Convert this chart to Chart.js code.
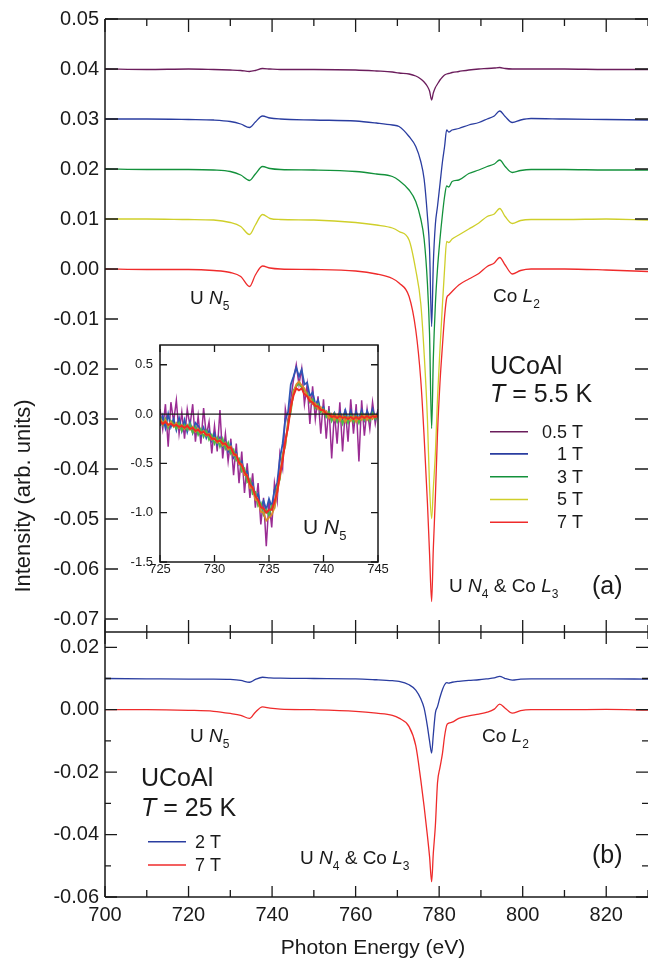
<!DOCTYPE html>
<html>
<head>
<meta charset="utf-8">
<script src="https://cdn.jsdelivr.net/npm/chart.js@4.4.0/dist/chart.umd.min.js"></script>
<style>
html,body{margin:0;padding:0;background:#fff;}
#wrap{position:relative;width:648px;height:958px;overflow:hidden;background:#fff;}
canvas{position:absolute;}
#cTop{left:0;top:0;}
#cBot{left:0;top:632px;}
#cIn{left:100px;top:330px;}
</style>
</head>
<body>
<div id="wrap">
  <canvas id="cTop" width="648" height="633"></canvas>
  <canvas id="cBot" width="648" height="326"></canvas>
  <canvas id="cIn" width="290" height="250"></canvas>
</div>
<script>
const FONT = '"Liberation Sans", Arial, Helvetica, sans-serif';
const INK = "#1a1a1a";

// photon energy grid (eV) shared by the main spectra
const energy = [
  700, 710, 720, 726, 730,
  732.5, 734.6, 736, 737.7, 739.5,
  742, 750, 760, 765, 768.8,
  770.4, 772.8, 774.4, 775.6, 776.4,
  777.2, 777.7, 778.2, 778.6, 779.1,
  779.6, 780.2, 780.8, 781.3, 781.8,
  782.3, 783.1, 784.7, 787.1, 789.5,
  791.5, 793.2, 794.5, 795.8, 797.5,
  799.5, 802, 810, 820, 830
];

// (a) T = 5.5 K, curves offset by 0.01
const int05T = [
  0.0400, 0.0399, 0.0400, 0.0399, 0.0398,
  0.0397, 0.0395, 0.0397, 0.0401, 0.0400,
  0.0399, 0.0399, 0.0398, 0.0396, 0.0394,
  0.0392, 0.0390, 0.0386, 0.0380, 0.0374,
  0.0365, 0.0356, 0.0338, 0.0352, 0.0363,
  0.0370, 0.0378, 0.0384, 0.0388, 0.0390,
  0.0391, 0.0393, 0.0395, 0.0398, 0.0400,
  0.0401, 0.0402, 0.0403, 0.0401, 0.0400,
  0.0400, 0.0400, 0.0400, 0.0399, 0.0399
];
const int1T = [
  0.0300, 0.0300, 0.0299, 0.0298, 0.0295,
  0.0290, 0.0283, 0.0294, 0.0306, 0.0302,
  0.0300, 0.0298, 0.0296, 0.0292, 0.0288,
  0.0285, 0.0265, 0.0245, 0.0215, 0.0180,
  0.0105, 0.0040, -0.0115, 0.0010, 0.0090,
  0.0125, 0.0170, 0.0215, 0.0245, 0.0278,
  0.0274, 0.0278, 0.0281, 0.0288, 0.0293,
  0.0300, 0.0306, 0.0316, 0.0305, 0.0293,
  0.0298, 0.0301, 0.0300, 0.0299, 0.0298
];
const int3T = [
  0.0200, 0.0199, 0.0199, 0.0198, 0.0195,
  0.0188, 0.0177, 0.0190, 0.0205, 0.0201,
  0.0199, 0.0198, 0.0195, 0.0190, 0.0185,
  0.0177, 0.0158, 0.0135, 0.0100, 0.0060,
  -0.0030, -0.0130, -0.0319, -0.0180, -0.0070,
  0.0000, 0.0060, 0.0110, 0.0145, 0.0166,
  0.0164, 0.0175, 0.0178, 0.0191, 0.0198,
  0.0205, 0.0210, 0.0218, 0.0205, 0.0193,
  0.0197, 0.0199, 0.0199, 0.0198, 0.0198
];
const int5T = [
  0.0100, 0.0100, 0.0099, 0.0098, 0.0093,
  0.0085, 0.0069, 0.0088, 0.0109, 0.0101,
  0.0099, 0.0098, 0.0093, 0.0088, 0.0082,
  0.0075, 0.0058, -0.0002, -0.0069, -0.0168,
  -0.0302, -0.0435, -0.0499, -0.0440, -0.0368,
  -0.0260, -0.0160, -0.0069, 0.0000, 0.0055,
  0.0053, 0.0060, 0.0068, 0.0080, 0.0092,
  0.0105, 0.0110, 0.0121, 0.0105, 0.0091,
  0.0097, 0.0099, 0.0099, 0.0100, 0.0098
];
const int7T = [
  0.0000, -0.0001, -0.0001, -0.0003, -0.0007,
  -0.0015, -0.0035, -0.0012, 0.0006, 0.0002,
  0.0000, -0.0001, -0.0004, -0.0010, -0.0019,
  -0.0028, -0.0055, -0.0122, -0.0222, -0.0335,
  -0.0469, -0.0569, -0.0665, -0.0560, -0.0455,
  -0.0330, -0.0227, -0.0152, -0.0095, -0.0058,
  -0.0052, -0.0045, -0.0032, -0.0020, -0.0009,
  0.0005, 0.0012, 0.0023, 0.0008, -0.0010,
  -0.0003, 0.0000, 0.0000, -0.0002, -0.0005
];

// (b) T = 25 K
const int2T25K = [
  0.0100, 0.0099, 0.0098, 0.0098, 0.0097,
  0.0094, 0.0088, 0.0097, 0.0104, 0.0102,
  0.0101, 0.0100, 0.0099, 0.0096, 0.0093,
  0.0091, 0.0080, 0.0063, 0.0035, 0.0005,
  -0.0054, -0.0100, -0.0139, -0.0080, -0.0010,
  0.0010, 0.0040, 0.0065, 0.0080, 0.0087,
  0.0085, 0.0088, 0.0091, 0.0094, 0.0096,
  0.0099, 0.0102, 0.0107, 0.0100, 0.0095,
  0.0098, 0.0099, 0.0099, 0.0099, 0.0098
];
const int7T25K = [
  0.0000, 0.0000, -0.0002, -0.0005, -0.0012,
  -0.0018, -0.0028, -0.0008, 0.0009, 0.0005,
  0.0002, 0.0000, -0.0005, -0.0011, -0.0018,
  -0.0027, -0.0054, -0.0115, -0.0225, -0.0310,
  -0.0405, -0.0470, -0.0551, -0.0460, -0.0370,
  -0.0235, -0.0185, -0.0139, -0.0085, -0.0050,
  -0.0043, -0.0040, -0.0028, -0.0020, -0.0014,
  -0.0008, 0.0002, 0.0018, 0.0005, -0.0011,
  -0.0003, 0.0000, 0.0000, 0.0001, -0.0001
];

// inset: normalised U N5 signal
const insetE = [
  725, 725.25, 725.5, 725.75, 726, 726.25, 726.5, 726.75, 727, 727.25,
  727.5, 727.75, 728, 728.25, 728.5, 728.75, 729, 729.25, 729.5, 729.75,
  730, 730.25, 730.5, 730.75, 731, 731.25, 731.5, 731.75, 732, 732.25,
  732.5, 732.75, 733, 733.25, 733.5, 733.75, 734, 734.25, 734.5, 734.75,
  735, 735.25, 735.5, 735.75, 736, 736.25, 736.5, 736.75, 737, 737.25,
  737.5, 737.75, 738, 738.25, 738.5, 738.75, 739, 739.25, 739.5, 739.75,
  740, 740.25, 740.5, 740.75, 741, 741.25, 741.5, 741.75, 742, 742.25,
  742.5, 742.75, 743, 743.25, 743.5, 743.75, 744, 744.25, 744.5, 744.75,
  745
];
const inset05T = [
  0.05, -0.15, 0.10, -0.33, 0.12, -0.08, 0.14, -0.20, 0.02, -0.25,
  0.05, -0.12, 0.10, -0.28, -0.02, -0.30, 0.06, -0.22, -0.08, -0.40,
  -0.12, -0.38, 0.04, -0.45, -0.20, -0.48, -0.25, -0.62, -0.30, -0.70,
  -0.38, -0.80, -0.50, -0.85, -0.60, -0.95, -0.70, -1.12, -0.85, -1.34,
  -0.88, -1.15, -0.70, -0.88, -0.40, -0.55, 0.05, -0.12, 0.15, 0.35,
  0.50, 0.30, 0.46, 0.10, 0.30, -0.10, 0.28, -0.05, 0.18, -0.20,
  0.15, -0.25, 0.08, -0.45, 0.02, -0.30, 0.12, -0.38, 0.05, -0.28,
  0.15, -0.20, 0.10, -0.48, 0.14, -0.22, 0.05, -0.15, 0.12, -0.10,
  0.05
];
const inset1T = [
  -0.12, -0.02, -0.14, 0.00, -0.13, -0.05, -0.16, -0.04, -0.17, -0.06,
  -0.18, -0.08, -0.19, -0.09, -0.12, -0.22, -0.14, -0.24, -0.17, -0.27,
  -0.20, -0.31, -0.24, -0.33, -0.28, -0.38, -0.31, -0.44, -0.39, -0.51,
  -0.48, -0.60, -0.58, -0.73, -0.70, -0.85, -0.81, -0.95, -0.88, -0.97,
  -0.86, -0.94, -0.77, -0.70, -0.45, -0.30, -0.05, 0.02, 0.30, 0.38,
  0.47, 0.38, 0.45, 0.30, 0.32, 0.18, 0.22, 0.10, 0.14, 0.03,
  0.07, -0.02, 0.03, -0.06, 0.01, -0.07, 0.02, -0.05, 0.04, -0.06,
  0.03, -0.07, 0.02, -0.05, 0.04, -0.06, 0.03, -0.04, 0.05, -0.05,
  0.02
];
const inset3T = [
  -0.02, -0.11, -0.05, -0.14, -0.07, -0.10, -0.15, -0.09, -0.17, -0.11,
  -0.16, -0.10, -0.19, -0.13, -0.21, -0.15, -0.23, -0.17, -0.26, -0.21,
  -0.30, -0.24, -0.33, -0.25, -0.35, -0.29, -0.40, -0.36, -0.47, -0.45,
  -0.58, -0.55, -0.69, -0.66, -0.81, -0.79, -0.93, -0.90, -1.02, -0.97,
  -1.03, -0.93, -0.95, -0.74, -0.66, -0.41, -0.32, -0.07, 0.02, 0.24,
  0.28, 0.31, 0.27, 0.24, 0.21, 0.12, 0.15, 0.06, 0.10, 0.02,
  0.05, -0.03, 0.02, -0.07, 0.00, -0.08, -0.01, -0.10, -0.02, -0.09,
  -0.01, -0.08, -0.02, -0.09, 0.00, -0.06, -0.01, -0.07, 0.01, -0.05,
  -0.01
];
const inset5T = [
  -0.04, -0.10, -0.06, -0.12, -0.08, -0.13, -0.09, -0.14, -0.11, -0.15,
  -0.11, -0.16, -0.13, -0.18, -0.15, -0.20, -0.17, -0.22, -0.20, -0.26,
  -0.24, -0.29, -0.26, -0.32, -0.29, -0.36, -0.33, -0.42, -0.41, -0.51,
  -0.51, -0.62, -0.62, -0.75, -0.74, -0.87, -0.88, -0.99, -1.00, -1.08,
  -1.05, -1.02, -0.95, -0.80, -0.64, -0.44, -0.30, -0.10, 0.05, 0.22,
  0.30, 0.33, 0.29, 0.26, 0.18, 0.17, 0.10, 0.11, 0.05, 0.07,
  0.01, 0.03, -0.04, 0.00, -0.06, -0.01, -0.07, -0.02, -0.08, -0.03,
  -0.07, -0.02, -0.08, -0.03, -0.06, -0.01, -0.06, -0.02, -0.05, -0.01,
  -0.04
];
const inset7T = [
  -0.07, -0.10, -0.08, -0.11, -0.10, -0.12, -0.11, -0.13, -0.12, -0.14,
  -0.12, -0.15, -0.14, -0.17, -0.16, -0.19, -0.18, -0.21, -0.21, -0.25,
  -0.25, -0.28, -0.27, -0.30, -0.30, -0.34, -0.34, -0.40, -0.42, -0.49,
  -0.52, -0.59, -0.63, -0.71, -0.75, -0.83, -0.87, -0.94, -0.96, -1.00,
  -0.97, -0.97, -0.89, -0.79, -0.61, -0.47, -0.27, -0.13, 0.07, 0.19,
  0.26, 0.24, 0.26, 0.20, 0.18, 0.13, 0.12, 0.08, 0.08, 0.04,
  0.04, 0.00, 0.00, -0.03, -0.02, -0.04, -0.02, -0.04, -0.03, -0.05,
  -0.03, -0.05, -0.03, -0.05, -0.02, -0.04, -0.02, -0.04, -0.02, -0.03,
  -0.01
];

// ticks
const xMajor = [700, 720, 740, 760, 780, 800, 820];
const xMinor = [710, 730, 750, 770, 790, 810, 830];
const yTicksA = [0.05, 0.04, 0.03, 0.02, 0.01, 0.00, -0.01, -0.02, -0.03, -0.04, -0.05, -0.06, -0.07];
const yMajorB = [0.02, 0.00, -0.02, -0.04, -0.06];
const yMinorB = [0.01, -0.01, -0.03, -0.05];
const insetXTicks = [725, 730, 735, 740, 745];
const insetYTicks = [0.5, 0.0, -0.5, -1.0, -1.5];

const fieldsA = ["0.5 T", "1 T", "3 T", "5 T", "7 T"];
const colorsA = ["#6b1d5c", "#2a3da0", "#13913b", "#cfcf2a", "#ef2b2b"];
const fieldsB = ["2 T", "7 T"];
const colorsB = ["#2a3da0", "#ef2b2b"];
const insetColors = ["#9a2c93", "#2f55b5", "#4cb848", "#d98b2b", "#ef2b23"];

Chart.defaults.font.family = FONT;
Chart.defaults.color = INK;

function pts(xs, ys){ return xs.map((x, i) => ({ x: x, y: ys[i] })); }

function lineSet(label, xs, ys, color, width, order){
  return {
    label: label, data: pts(xs, ys), borderColor: color, borderWidth: width,
    pointRadius: 0, fill: false, cubicInterpolationMode: "monotone", order: order
  };
}

function seg(ctx, x1, y1, x2, y2){
  ctx.moveTo(x1, y1); ctx.lineTo(x2, y2);
}

// text with italic parts and subscripts
function drawRuns(ctx, x, y, runs, size){
  let cx = x;
  ctx.textBaseline = "alphabetic";
  ctx.textAlign = "left";
  for(const r of runs){
    const s = r.sub ? Math.round(size * 0.64) : size;
    ctx.font = (r.it ? "italic " : "") + s + "px " + FONT;
    ctx.fillText(r.t, cx, y + (r.sub ? size * 0.3 : 0));
    cx += ctx.measureText(r.t).width;
  }
}

const UN5 = [{t:"U "}, {t:"N", it:true}, {t:"5", sub:true}];
const CoL2 = [{t:"Co "}, {t:"L", it:true}, {t:"2", sub:true}];
const UN4CoL3 = [{t:"U "}, {t:"N", it:true}, {t:"4", sub:true}, {t:" & Co "}, {t:"L", it:true}, {t:"3", sub:true}];

function xTicks(ctx, scale, yEdge, dir, majLen, minLen){
  for(const v of xMajor){ const p = scale.getPixelForValue(v); seg(ctx, p, yEdge, p, yEdge + dir * majLen); }
  for(const v of xMinor){ const p = scale.getPixelForValue(v); seg(ctx, p, yEdge, p, yEdge + dir * minLen); }
}

const topDecor = {
  id: "topDecor",
  afterDraw(chart){
    const { ctx, chartArea: a, scales } = chart;
    const x = scales.x, y = scales.y;
    ctx.save();
    ctx.strokeStyle = INK;
    ctx.lineWidth = 1.5;
    ctx.beginPath();
    seg(ctx, a.left, a.top, a.left, a.bottom);
    seg(ctx, a.left, a.top, a.right, a.top);
    seg(ctx, a.left, a.bottom, a.right, a.bottom);
    ctx.stroke();
    ctx.lineWidth = 1.3;
    ctx.beginPath();
    for(const v of yTicksA){
      const p = y.getPixelForValue(v);
      seg(ctx, a.left, p, a.left + 13, p);
      seg(ctx, a.right, p, a.right - 13, p);
    }
    xTicks(ctx, x, a.top, 1, 13, 7);
    xTicks(ctx, x, a.bottom, -1, 12, 7);
    ctx.stroke();

    ctx.fillStyle = INK;
    drawRuns(ctx, 190, 304, UN5, 19);
    drawRuns(ctx, 493, 302, CoL2, 19);
    drawRuns(ctx, 490, 374, [{t:"UCoAl"}], 25);
    drawRuns(ctx, 490, 402, [{t:"T", it:true}, {t:" = 5.5 K"}], 25);
    drawRuns(ctx, 449, 592, UN4CoL3, 19);
    drawRuns(ctx, 592, 594, [{t:"(a)"}], 25);

    const legY = [431.7, 453.9, 476.7, 499.5, 522.3];
    ctx.font = "18px " + FONT;
    ctx.textAlign = "right";
    ctx.textBaseline = "middle";
    fieldsA.forEach((f, i) => {
      ctx.strokeStyle = colorsA[i];
      ctx.lineWidth = 1.6;
      ctx.beginPath(); seg(ctx, 490, legY[i], 528, legY[i]); ctx.stroke();
      ctx.fillText(f, 583, legY[i] + 1);
    });

    ctx.translate(24, 496);
    ctx.rotate(-Math.PI / 2);
    ctx.textAlign = "center";
    ctx.font = "22px " + FONT;
    ctx.fillText("Intensity (arb. units)", 0, 0);
    ctx.restore();
  }
};

const botDecor = {
  id: "botDecor",
  afterDraw(chart){
    const { ctx, chartArea: a, scales } = chart;
    const x = scales.x, y = scales.y;
    ctx.save();
    ctx.strokeStyle = INK;
    ctx.lineWidth = 1.5;
    ctx.beginPath();
    seg(ctx, a.left, a.top, a.left, a.bottom);
    seg(ctx, a.left, a.bottom, a.right, a.bottom);
    ctx.stroke();
    ctx.lineWidth = 1.3;
    ctx.beginPath();
    for(const v of yMajorB){
      const p = y.getPixelForValue(v);
      seg(ctx, a.left, p, a.left + 12, p);
      seg(ctx, a.right, p, a.right - 12, p);
    }
    for(const v of yMinorB){
      const p = y.getPixelForValue(v);
      seg(ctx, a.left, p, a.left + 6, p);
      seg(ctx, a.right, p, a.right - 6, p);
    }
    xTicks(ctx, x, a.top, 1, 12, 7);
    xTicks(ctx, x, a.bottom, -1, 11, 7);
    ctx.stroke();

    ctx.fillStyle = INK;
    drawRuns(ctx, 190, 110, UN5, 19);
    drawRuns(ctx, 482, 110, CoL2, 19);
    drawRuns(ctx, 141, 154, [{t:"UCoAl"}], 25);
    drawRuns(ctx, 141, 184, [{t:"T", it:true}, {t:" = 25 K"}], 25);
    drawRuns(ctx, 300, 232, UN4CoL3, 19);
    drawRuns(ctx, 592, 231, [{t:"(b)"}], 25);

    const legY = [209.7, 233];
    ctx.font = "18px " + FONT;
    ctx.textAlign = "left";
    ctx.textBaseline = "middle";
    fieldsB.forEach((f, i) => {
      ctx.strokeStyle = colorsB[i];
      ctx.lineWidth = 1.6;
      ctx.beginPath(); seg(ctx, 148, legY[i], 186, legY[i]); ctx.stroke();
      ctx.fillText(f, 195, legY[i] + 1);
    });

    ctx.textAlign = "center";
    ctx.textBaseline = "alphabetic";
    ctx.font = "21px " + FONT;
    ctx.fillText("Photon Energy (eV)", 373, 322);
    ctx.restore();
  }
};

const insetDecor = {
  id: "insetDecor",
  afterDraw(chart){
    const { ctx, chartArea: a, scales } = chart;
    const x = scales.x, y = scales.y;
    ctx.save();
    ctx.strokeStyle = INK;
    ctx.lineWidth = 1.5;
    ctx.strokeRect(a.left, a.top, a.right - a.left, a.bottom - a.top);
    ctx.lineWidth = 1.3;
    ctx.beginPath();
    const y0 = y.getPixelForValue(0);
    seg(ctx, a.left, y0, a.right, y0);
    for(const v of insetYTicks){
      const p = y.getPixelForValue(v);
      seg(ctx, a.left, p, a.left + 7, p);
      seg(ctx, a.right, p, a.right - 7, p);
    }
    for(const v of insetXTicks){
      const p = x.getPixelForValue(v);
      seg(ctx, p, a.top, p, a.top + 7);
      seg(ctx, p, a.bottom, p, a.bottom - 7);
    }
    ctx.stroke();
    ctx.fillStyle = INK;
    drawRuns(ctx, 203, 204, UN5, 21);
    ctx.restore();
  }
};

// fix axis box sizes and drop the label overhang padding Chart.js adds
function fixedWidth(w){ return s => { s.width = w; s.paddingTop = 0; s.paddingBottom = 0; }; }
function fixedHeight(h){ return s => { s.height = h; s.paddingLeft = 0; s.paddingRight = 0; }; }

// (a) main panel
new Chart(document.getElementById("cTop"), {
  type: "line",
  data: {
    datasets: [
      lineSet(fieldsA[4], energy, int7T, colorsA[4], 1.3, 0),
      lineSet(fieldsA[3], energy, int5T, colorsA[3], 1.3, 1),
      lineSet(fieldsA[2], energy, int3T, colorsA[2], 1.3, 2),
      lineSet(fieldsA[1], energy, int1T, colorsA[1], 1.3, 3),
      lineSet(fieldsA[0], energy, int05T, colorsA[0], 1.3, 4)
    ]
  },
  options: {
    responsive: false, animation: false, events: [],
    layout: { padding: { top: 19, bottom: 1, left: 0, right: 0 } },
    plugins: { legend: { display: false }, tooltip: { enabled: false } },
    scales: {
      x: { type: "linear", min: 700, max: 830, display: false },
      y: {
        type: "linear", min: -0.0726, max: 0.05,
        grid: { display: false, drawTicks: false }, border: { display: false },
        afterBuildTicks: s => { s.ticks = yTicksA.map(v => ({ value: v })); },
        afterFit: fixedWidth(105),
        ticks: { autoSkip: false, padding: 6, font: { size: 20 }, color: INK, callback: v => v.toFixed(2) }
      }
    }
  },
  plugins: [topDecor]
});

// (b) lower panel
new Chart(document.getElementById("cBot"), {
  type: "line",
  data: {
    datasets: [
      lineSet(fieldsB[1], energy, int7T25K, colorsB[1], 1.3, 0),
      lineSet(fieldsB[0], energy, int2T25K, colorsB[0], 1.3, 1)
    ]
  },
  options: {
    responsive: false, animation: false, events: [],
    layout: { padding: { top: 0, bottom: 0, left: 0, right: 0 } },
    plugins: { legend: { display: false }, tooltip: { enabled: false } },
    scales: {
      x: {
        type: "linear", min: 700, max: 830,
        grid: { display: false, drawTicks: false }, border: { display: false },
        afterBuildTicks: s => { s.ticks = xMajor.map(v => ({ value: v })); },
        afterFit: fixedHeight(61),
        ticks: { autoSkip: false, maxRotation: 0, padding: 6, font: { size: 20 }, color: INK }
      },
      y: {
        type: "linear", min: -0.06, max: 0.0249,
        grid: { display: false, drawTicks: false }, border: { display: false },
        afterBuildTicks: s => { s.ticks = yMajorB.map(v => ({ value: v })); },
        afterFit: fixedWidth(105),
        ticks: { autoSkip: false, padding: 6, font: { size: 20 }, color: INK, callback: v => v.toFixed(2) }
      }
    }
  },
  plugins: [botDecor]
});

// inset
new Chart(document.getElementById("cIn"), {
  type: "line",
  data: {
    datasets: [
      lineSet(fieldsA[4], insetE, inset7T, insetColors[4], 2, 0),
      lineSet(fieldsA[3], insetE, inset5T, insetColors[3], 1.8, 1),
      lineSet(fieldsA[2], insetE, inset3T, insetColors[2], 1.8, 2),
      lineSet(fieldsA[1], insetE, inset1T, insetColors[1], 1.8, 3),
      lineSet(fieldsA[0], insetE, inset05T, insetColors[0], 1.5, 4)
    ].map(d => Object.assign(d, { cubicInterpolationMode: "default", tension: 0 }))
  },
  options: {
    responsive: false, animation: false, events: [],
    layout: { padding: { top: 15, bottom: 0, left: 0, right: 12 } },
    plugins: { legend: { display: false }, tooltip: { enabled: false } },
    scales: {
      x: {
        type: "linear", min: 725, max: 745,
        grid: { display: false, drawTicks: false }, border: { display: false },
        afterBuildTicks: s => { s.ticks = insetXTicks.map(v => ({ value: v })); },
        afterFit: fixedHeight(18),
        ticks: { autoSkip: false, maxRotation: 0, padding: 0, font: { size: 13 }, color: INK }
      },
      y: {
        type: "linear", min: -1.5, max: 0.7,
        grid: { display: false, drawTicks: false }, border: { display: false },
        afterBuildTicks: s => { s.ticks = insetYTicks.map(v => ({ value: v })); },
        afterFit: fixedWidth(60),
        ticks: { autoSkip: false, padding: 7, font: { size: 13 }, color: INK, callback: v => v.toFixed(1) }
      }
    }
  },
  plugins: [insetDecor]
});
</script>
</body>
</html>
